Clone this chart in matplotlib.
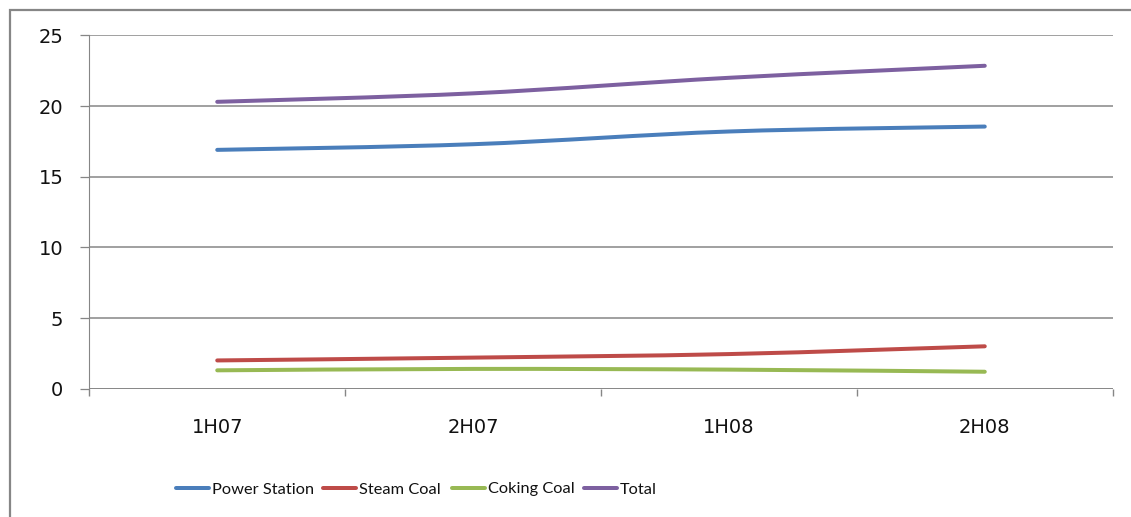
import matplotlib
matplotlib.use("Agg")
import matplotlib.pyplot as plt
from matplotlib.path import Path
from matplotlib.patches import PathPatch, Rectangle
from matplotlib.lines import Line2D
import numpy as np

# Half-year coal volumes
periods = ["1H07", "2H07", "1H08", "2H08"]
power_station = [16.9, 17.3, 18.2, 18.55]
steam_coal = [2.0, 2.2, 2.45, 3.0]
coking_coal = [1.3, 1.4, 1.35, 1.2]
total = [20.3, 20.9, 22.0, 22.85]

series_names = ["Power Station", "Steam Coal", "Coking Coal", "Total"]
series_colors = ["#4a7ebb", "#be4b48", "#98b954", "#7d60a0"]

W, H, DPI = 1131, 517, 100
PX = 72.0 / DPI  # points per pixel
fig = plt.figure(figsize=(W / DPI, H / DPI), dpi=DPI)
fig.patch.set_facecolor("white")

# chart frame (runs off the right and bottom edges)
fig.add_artist(Rectangle((9.5 / W, -0.1), 1.2, 1 - 9.5 / H + 0.1,
                         transform=fig.transFigure, fill=False,
                         edgecolor="#868686", linewidth=1.6))

left, right = 89.3 / W, 1112.7 / W
bottom, top = 1 - 388.7 / H, 1 - 35.4 / H
ax = fig.add_axes([left, bottom, right - left, top - bottom])

ax.set_xlim(-0.5, len(periods) - 0.5)
ax.set_ylim(0, 25)

grid_color = "#868686"
for s in ["top", "right", "bottom"]:
    ax.spines[s].set_visible(False)
ax.spines["left"].set_color(grid_color)
ax.spines["left"].set_linewidth(0.8)

yt = [0, 5, 10, 15, 20, 25]
ax.set_yticks(yt)
ax.set_yticklabels([str(v) for v in yt])
ax.tick_params(axis="y", length=9 * PX, width=0.9, color=grid_color,
               pad=17 * PX, labelsize=14, labelcolor="#111111")
for v in yt:
    ax.axhline(v, color=grid_color, linewidth=1.4 if v == 0 else 1.1,
               zorder=1)

# category boundaries get tick marks, category centres get labels
x = np.arange(len(periods))
ax.set_xticks(np.arange(len(periods) + 1) - 0.5)
ax.set_xticklabels([])
ax.set_xticks(x, minor=True)
ax.set_xticklabels(periods, minor=True)
ax.tick_params(axis="x", which="major", length=7 * PX, width=1.0,
               color=grid_color)
ax.tick_params(axis="x", which="minor", length=0, pad=29 * PX, labelsize=14,
               labelcolor="#111111")


def smooth_path(xs, ys):
    """Cardinal Bezier through the points, like a smoothed office line."""
    pts = np.column_stack([xs, ys]).astype(float)
    n = len(pts)
    verts = [pts[0]]
    codes = [Path.MOVETO]
    for i in range(n - 1):
        p0 = pts[i - 1] if i > 0 else pts[i]
        p1, p2 = pts[i], pts[i + 1]
        p3 = pts[i + 2] if i + 2 < n else pts[i + 1]
        c1 = p1 + (p2 - p0) / 6.0
        c2 = p2 - (p3 - p1) / 6.0
        verts += [c1, c2, p2]
        codes += [Path.CURVE4] * 3
    return Path(verts, codes)


lw = 4 * PX
for vals, color in zip([power_station, steam_coal, coking_coal, total],
                       series_colors):
    ax.add_patch(PathPatch(smooth_path(x, vals), facecolor="none",
                           edgecolor=color, linewidth=lw,
                           capstyle="round", zorder=3))

# legend row below the plot: swatch then label
legend_x = [176, 323, 452, 584]
legend_y = 1 - 488 / H
swatch = 33
for lx, name, color in zip(legend_x, series_names, series_colors):
    fig.add_artist(Line2D([lx / W, (lx + swatch) / W], [legend_y, legend_y],
                          transform=fig.transFigure, color=color,
                          linewidth=lw, solid_capstyle="round"))
    fig.text((lx + swatch + 3) / W, legend_y, name, ha="left",
             va="center_baseline", fontsize=11.8, family="Lato",
             color="#111111")

fig.savefig("out.png", dpi=DPI, facecolor="white")
